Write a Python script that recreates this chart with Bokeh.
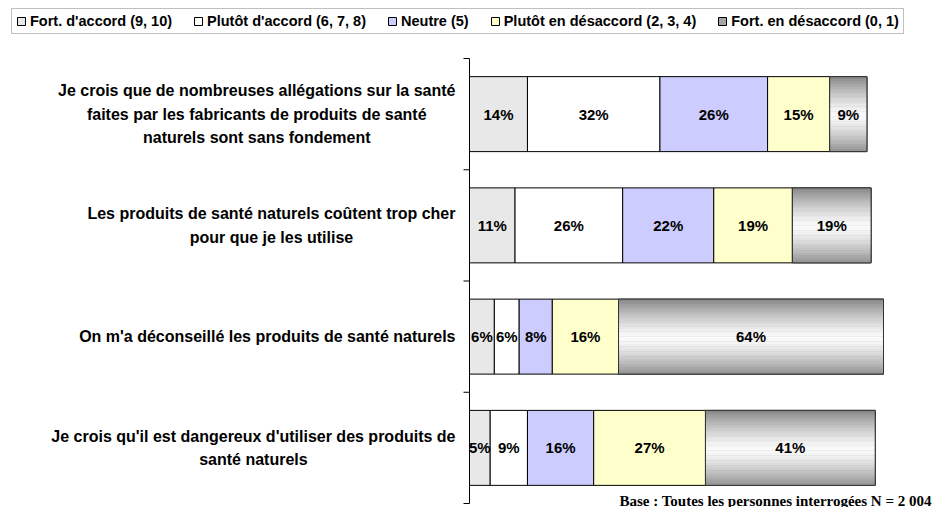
from bokeh.plotting import figure
from bokeh.models import ColumnDataSource, Range1d, Legend, LegendItem, Label
from bokeh.core.properties import value
from bokeh.embed import file_html
from bokeh.resources import INLINE

# ---------------- data ----------------
statements = [
    "Je crois que de nombreuses allégations sur la santé\nfaites par les fabricants de produits de santé\nnaturels sont sans fondement",
    "Les produits de santé naturels coûtent trop cher\npour que je les utilise",
    "On m'a déconseillé les produits de santé naturels",
    "Je crois qu'il est dangereux d'utiliser des produits de\nsanté naturels",
]
series_names = [
    "Fort. d'accord (9, 10)",
    "Plutôt d'accord (6, 7, 8)",
    "Neutre (5)",
    "Plutôt en désaccord (2, 3, 4)",
    "Fort. en désaccord (0, 1)",
]
fort_accord = [14, 11, 6, 5]
plutot_accord = [32, 26, 6, 9]
neutre = [26, 22, 8, 16]
plutot_desaccord = [15, 19, 16, 27]
fort_desaccord = [9, 19, 64, 41]
base_note = "Base : Toutes les personnes interrogées  N = 2 004"

series_values = [fort_accord, plutot_accord, neutre, plutot_desaccord, fort_desaccord]
colors = ["#E8E8E8", "#FFFFFF", "#CCCCFF", "#FFFFCC", "#A6A6A6"]
gradient_series = 4

# ---------------- layout constants (pixels) ----------------
W, H = 937, 507
AXIS_X = 469          # x of the value axis
PX_PER_PCT = 4.14     # horizontal scale
TOP_PX, BOTTOM_PX = 58, 503
BAR_H = 0.674
LABEL_GAP = 14
TICK_LEN = 6
FONT = "Liberation Sans"
LABEL_SIZE = 16

n = len(statements)
cat_px = (BOTTOM_PX - TOP_PX) / n

# Arial/Liberation Sans Bold advance widths (1/1000 em), for centring wrapped labels
_AB = {" ": 278, "'": 238, "(": 333, ")": 333, ",": 278, ".": 278, "%": 889,
       "J": 556, "L": 611, "O": 778, "a": 556, "b": 611, "c": 556, "d": 611, "e": 556,
       "é": 556, "f": 333, "g": 611, "h": 611, "i": 278, "j": 278, "l": 278, "m": 889,
       "n": 611, "o": 611, "p": 611, "q": 611, "r": 389, "s": 556, "t": 333, "u": 611,
       "û": 611, "v": 556, "x": 556, "y": 556, "z": 500}

def text_w(s, size):
    return max(sum(_AB.get(c, 556) for c in line) for line in s.split("\n")) * size / 1000

p = figure(width=W, height=H,
           x_range=Range1d(-AXIS_X / PX_PER_PCT, (W - AXIS_X) / PX_PER_PCT),
           y_range=Range1d(-(H - BOTTOM_PX) / cat_px, n + TOP_PX / cat_px),
           x_axis_type=None, y_axis_type=None, min_border=0,
           output_backend="svg", toolbar_location=None)
p.outline_line_color = None
p.background_fill_color = "white"

ys = [n - i - 0.5 for i in range(n)]

# value axis line with ticks between the categories
p.segment(x0=[0], y0=[0], x1=[0], y1=[n], line_color="black", line_width=1)
bounds = list(range(n + 1))
p.segment(x0=[-TICK_LEN / PX_PER_PCT] * len(bounds), y0=bounds,
          x1=[0] * len(bounds), y1=bounds, line_color="black", line_width=1)

# category labels: block right-aligned next to the axis, lines centred
lab_src = ColumnDataSource(dict(
    x=[-(LABEL_GAP + text_w(s, LABEL_SIZE) / 2) / PX_PER_PCT for s in statements],
    y=ys, text=statements))
p.text(x="x", y="y", text="text", source=lab_src, text_align="center",
       text_baseline="middle", text_font=value(FONT), text_font_style="bold",
       text_font_size=f"{LABEL_SIZE}px", text_line_height=1.38, text_color="black")

# gradient profile (cylinder shading) for the darkest series
N_STRIPES = 30
def shade(t):
    d = abs(t - 0.52) / 0.52
    v = int(round(250 - 118 * d ** 1.4))
    return "#%02x%02x%02x" % (v, v, v)

left = [0] * n
legend_renderers = []
text_sources = []
for k, (vals, color) in enumerate(zip(series_values, colors)):
    right = [l + v for l, v in zip(left, vals)]
    src = ColumnDataSource(dict(
        y=ys, left=left, right=right,
        mid=[(l + r) / 2 for l, r in zip(left, right)],
        label=[f"{v}%" for v in vals],
    ))
    r = p.hbar(y="y", left="left", right="right", height=BAR_H, source=src,
               fill_color=color, line_color="black", line_width=1)
    legend_renderers.append(r)
    if k == gradient_series:
        sh = BAR_H / N_STRIPES
        for j in range(N_STRIPES):
            t = (j + 0.5) / N_STRIPES
            ssrc = ColumnDataSource(dict(
                y=[y + BAR_H / 2 - (j + 0.5) * sh for y in ys], left=left, right=right))
            p.hbar(y="y", left="left", right="right", height=sh * 1.08, source=ssrc,
                   fill_color=shade(t), line_color=None)
        p.hbar(y="y", left="left", right="right", height=BAR_H, source=src,
               fill_color=None, line_color="#333333", line_width=1)
    text_sources.append(src)
    left = right

for src in text_sources:
    p.text(x="mid", y="y", text="label", source=src, text_align="center",
           text_baseline="middle", text_font=value(FONT), text_font_style="bold",
           text_font_size="15px", text_color="black")

legend = Legend(
    items=[LegendItem(label=nm, renderers=[r]) for nm, r in zip(series_names, legend_renderers)],
    orientation="horizontal", location=(11, H - 9 - 25),
    label_text_font=FONT, label_text_font_style="bold", label_text_font_size="14.5px",
    label_text_color="black", label_height=15, label_standoff=4,
    glyph_width=10, glyph_height=10, spacing=21, padding=4, margin=0,
    border_line_color="#808080", border_line_width=1,
    background_fill_color="white", background_fill_alpha=1,
)
p.add_layout(legend)

note = Label(x=W - 2, y=H - BOTTOM_PX + 3, x_units="screen", y_units="screen", text=base_note,
             text_align="right", text_baseline="alphabetic",
             text_font="Liberation Serif", text_font_style="bold",
             text_font_size="15px", text_color="black")
p.add_layout(note)

open("out.html", "w").write(file_html(p, INLINE))
